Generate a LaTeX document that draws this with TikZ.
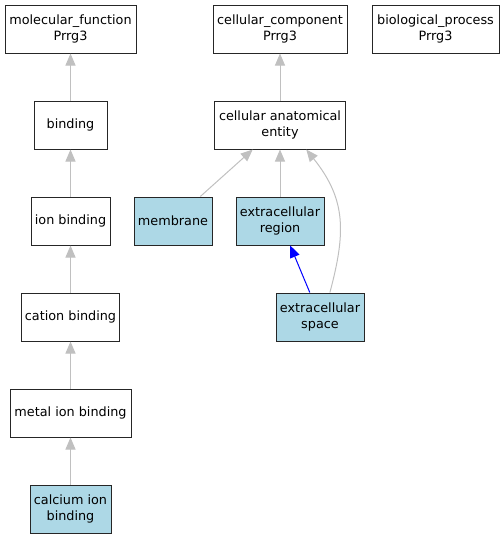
\documentclass[tikz,border=0pt]{standalone}
\usepackage{fontspec}
\setmainfont{DejaVu Sans}
\usepackage{xcolor}
\usepackage{tikz}
\usetikzlibrary{arrows.meta, positioning}
\definecolor{golight}{RGB}{173,216,230}
\definecolor{goedge}{RGB}{192,192,192}
\definecolor{goblue}{RGB}{0,0,255}

\begin{document}
\begin{tikzpicture}[
  x=1pt, y=1pt,
  every node/.style={font=\fontsize{12.8}{16}\selectfont},
  term/.style={rectangle, draw=black!85, fill=white, line width=1pt,
               minimum height=48pt, inner xsep=2pt, align=center},
  hit/.style={term, fill=golight},
  isa/.style={-{Triangle[length=12pt, width=10pt]}, line width=1pt, color=goedge},
  partof/.style={-{Triangle[length=12pt, width=10pt]}, line width=1pt, color=goblue},
]
\useasboundingbox (0,0) rectangle (503,-539);

% roots
\node[term, minimum width=131pt] (mf)  at (70.5,-29)  {molecular\_function\\Prrg3};
\node[term, minimum width=134pt] (cc)  at (280,-29)   {cellular\_component\\Prrg3};
\node[term, minimum width=127pt] (bp)  at (435.5,-29) {biological\_process\\Prrg3};

% molecular function branch
\node[term, minimum width=73pt]  (bind)   at (70.5,-125) {binding};
\node[term, minimum width=79pt]  (ionb)   at (70.5,-221) {ion binding};
\node[term, minimum width=98pt]  (catb)   at (70.5,-317) {cation binding};
\node[term, minimum width=121pt] (metalb) at (70.5,-413) {metal ion binding};
\node[hit,  minimum width=81pt]  (calb)   at (70.5,-509) {calcium ion\\binding};

% cellular component branch
\node[term, minimum width=131pt] (cae)    at (280,-125) {cellular anatomical\\entity};
\node[hit,  minimum width=78pt]  (memb)   at (173,-221)   {membrane};
\node[hit,  minimum width=88pt]  (exreg)  at (280,-221)   {extracellular\\region};
\node[hit,  minimum width=88pt]  (exsp)   at (320,-317)   {extracellular\\space};

\draw[isa] (bind)   -- (mf);
\draw[isa] (ionb)   -- (bind);
\draw[isa] (catb)   -- (ionb);
\draw[isa] (metalb) -- (catb);
\draw[isa] (calb)   -- (metalb);

\draw[isa] (cae)   -- (cc);
\draw[isa] (memb)  -- (cae);
\draw[isa] (exreg) -- (cae);
\draw[isa] (exsp.68) .. controls +(16,60) and +(40,-50) .. (cae.-43);
\draw[partof] (exsp) -- (exreg);

\end{tikzpicture}
\end{document}
